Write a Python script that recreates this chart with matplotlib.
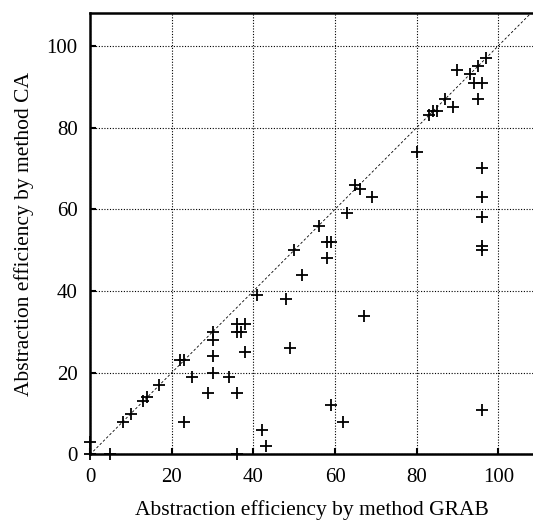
import matplotlib.pyplot as plt

# Values (GRAB vs CA abstraction efficiency)
grab = [97, 95, 90, 93, 94, 96, 95, 87, 89, 83, 84, 85, 80, 96, 96, 96,
        65, 66, 69, 63, 56, 96, 96, 58, 59, 58, 50, 52, 41, 48, 67,
        36, 38, 36, 37, 30, 30, 30, 38, 49, 22, 23, 30, 25, 34, 17,
        29, 36, 14, 13, 10, 8, 23, 59, 96, 62, 42, 43, 0, 0, 5, 36]
ca = [97, 95, 94, 93, 91, 91, 87, 87, 85, 83, 84, 84, 74, 70, 63, 58,
      66, 65, 63, 59, 56, 51, 50, 52, 52, 48, 50, 44, 39, 38, 34,
      32, 32, 30, 30, 30, 28, 24, 25, 26, 23, 23, 20, 19, 19, 17,
      15, 15, 14, 13, 10, 8, 8, 12, 11, 8, 6, 2, 3, 0, 0, 0]

ticks = [0, 20, 40, 60, 80, 100]

plt.rcParams['font.family'] = ['Liberation Serif', 'DejaVu Serif']

fig = plt.figure(figsize=(5.33, 5.26), dpi=100)
ax = fig.add_axes([0.169, 0.136, 0.831, 0.839])

ax.plot([0, 110], [0, 110], linestyle=(0, (3, 2.5)), color='black', linewidth=0.6)
ax.plot(grab, ca, '+', color='black', ms=8, mew=1.3, clip_on=False, zorder=3)

ax.set_xlim(0, 108.5)
ax.set_ylim(0, 108)
ax.set_xticks(ticks)
ax.set_yticks(ticks)
ax.grid(True, linestyle=(0, (1, 1.5)), color='black', linewidth=0.8)
ax.tick_params(direction='in', length=4, width=1.5, labelsize=15)
ax.tick_params(axis='x', pad=10)
ax.tick_params(axis='y', pad=9)

for s in ['left', 'bottom', 'top']:
    ax.spines[s].set_linewidth(1.8)
ax.spines['right'].set_visible(False)

ax.set_xlabel('Abstraction efficiency by method GRAB', fontsize=15.5, labelpad=9)
ax.set_ylabel('Abstraction efficiency by method CA', fontsize=15.5, labelpad=9)

fig.savefig('out.png', dpi=100)
